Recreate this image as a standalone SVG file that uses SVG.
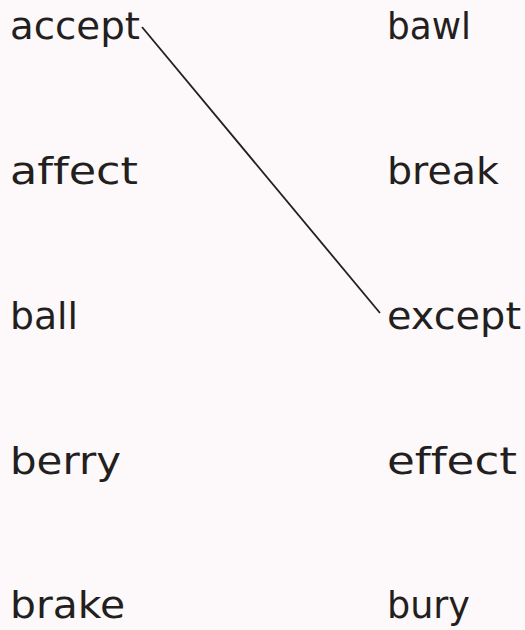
<svg xmlns="http://www.w3.org/2000/svg" width="525" height="630" viewBox="0 0 525 630">
<style>
text{font-family:"DejaVu Sans","Noto Sans",sans-serif;font-size:38px;fill:#231f20;font-variant-ligatures:none}
.c{stroke:#231f20;stroke-width:1.8;fill:none}
</style>
<rect width="525" height="630" fill="#fdf8f9"/>
<g id="left">
<g id="n-accept"><text x="10" y="39" textLength="130" lengthAdjust="spacingAndGlyphs">accept</text></g>
<g id="n-affect"><text x="10" y="184" textLength="128" lengthAdjust="spacingAndGlyphs">affect</text></g>
<g id="n-ball"><text x="10" y="329" textLength="68" lengthAdjust="spacingAndGlyphs">ball</text></g>
<g id="n-berry"><text x="10" y="474" textLength="111" lengthAdjust="spacingAndGlyphs">berry</text></g>
<g id="n-brake"><text x="10" y="618" textLength="115" lengthAdjust="spacingAndGlyphs">brake</text></g>
</g>
<g id="right">
<g id="n-bawl"><text x="387" y="39" textLength="84" lengthAdjust="spacingAndGlyphs">bawl</text></g>
<g id="n-break"><text x="387" y="184" textLength="112" lengthAdjust="spacingAndGlyphs">break</text></g>
<g id="n-except"><text x="387" y="329" textLength="134" lengthAdjust="spacingAndGlyphs">except</text></g>
<g id="n-effect"><text x="387" y="474" textLength="130" lengthAdjust="spacingAndGlyphs">effect</text></g>
<g id="n-bury"><text x="387" y="618" textLength="83" lengthAdjust="spacingAndGlyphs">bury</text></g>
</g>
<g id="connectors">
<line class="c" x1="142" y1="27" x2="380" y2="313"/>
</g>
</svg>
